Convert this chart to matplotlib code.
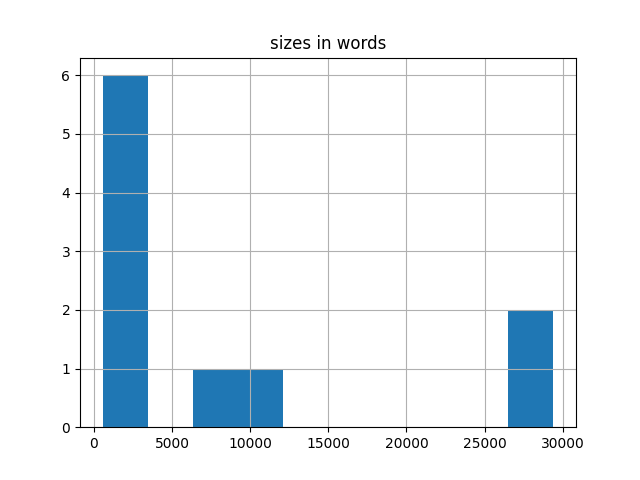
import matplotlib
matplotlib.use("Agg")
import matplotlib.pyplot as plt

# Word counts per document
sizes_in_words = [560, 1200, 1500, 2000, 2500, 3000, 8000, 11000, 27000, 29400]
N_BINS = 10

fig, ax = plt.subplots(figsize=(6.4, 4.8), dpi=100)
ax.hist(sizes_in_words, bins=N_BINS, color="#1f77b4")
ax.grid(True)
ax.set_title("sizes in words")

plt.savefig("out.png")
